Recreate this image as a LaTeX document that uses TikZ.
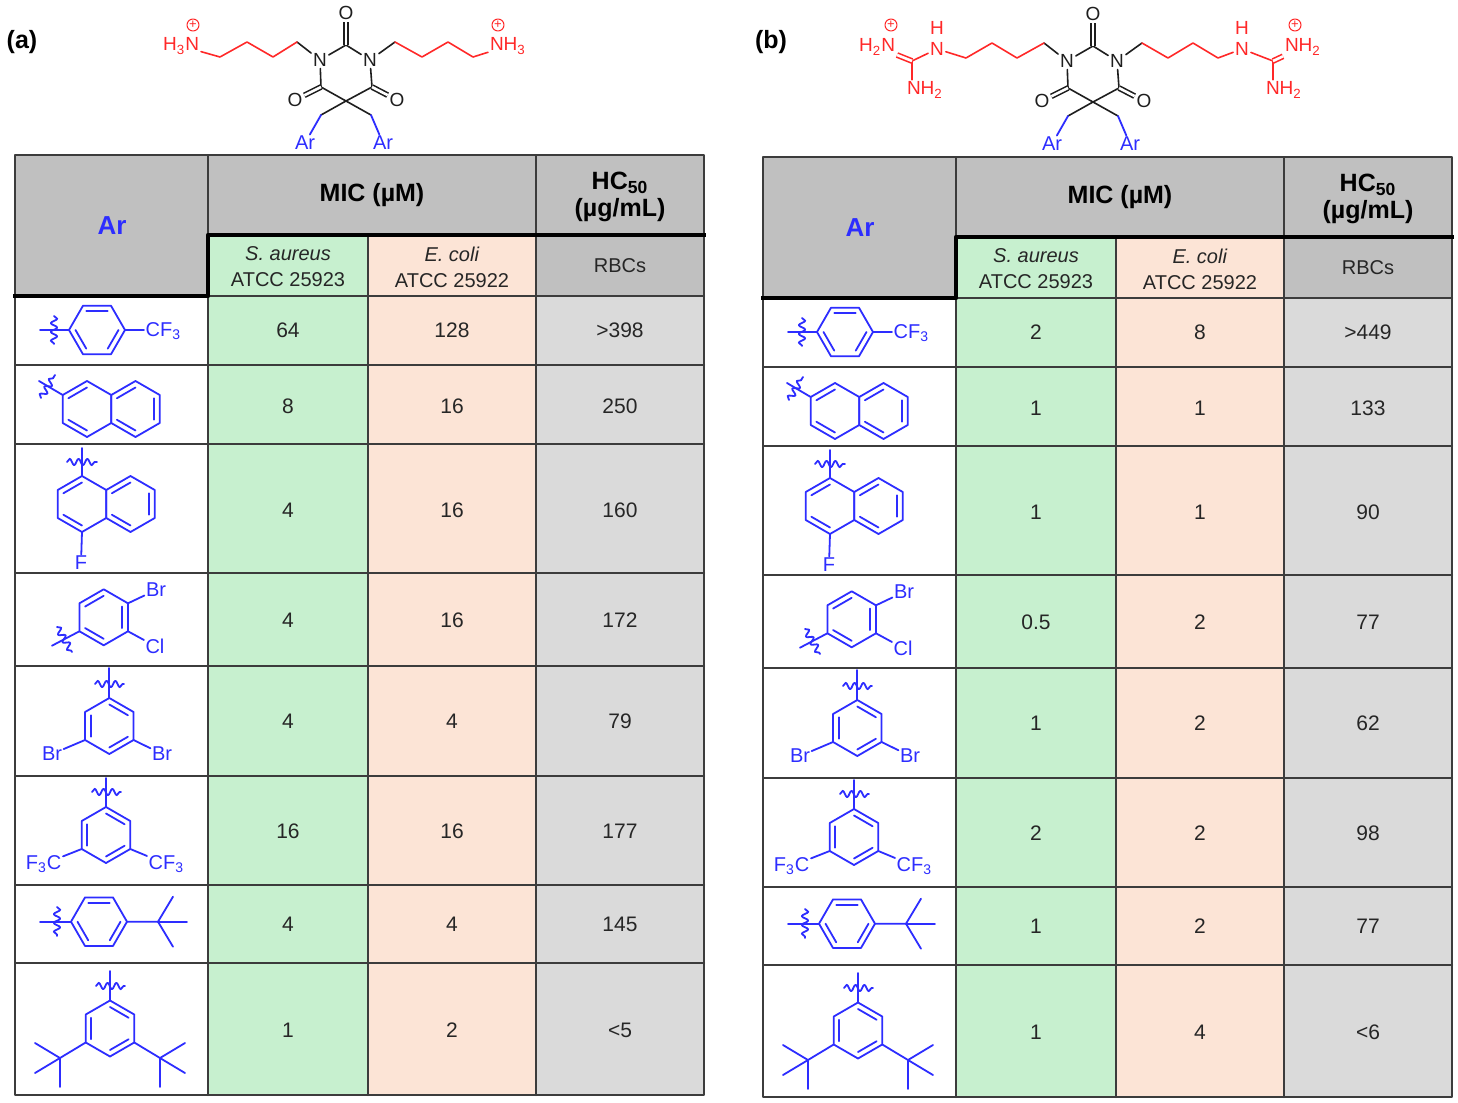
\documentclass[tikz,border=0pt]{standalone}
\usepackage{fontspec}
\setmainfont{Liberation Sans}
\usetikzlibrary{decorations.pathmorphing}
\definecolor{chemblue}{RGB}{45,45,255}
\definecolor{chemred}{RGB}{255,40,40}
\definecolor{chemblack}{RGB}{30,30,30}
\definecolor{headgray}{RGB}{192,192,192}
\definecolor{datagray}{RGB}{218,218,218}
\definecolor{saureus}{RGB}{199,240,207}
\definecolor{ecoli}{RGB}{252,228,214}
\definecolor{ruleline}{RGB}{60,60,60}
\definecolor{numtext}{RGB}{38,38,38}

\newcommand\ringr{28}
\newcommand\ringi{21.5}
% benzene ring: centre x, centre y, first corner, inner edges
\newcommand\benz[4]{%
  \begin{scope}[shift={(#1,#2)}]
    \draw[mol] (#3:\ringr) \foreach \k in {1,...,5}{ -- ({#3+60*\k}:\ringr)} -- cycle;
    \foreach \k in {#4}
      \draw[mol] ({#3+60*\k}:\ringi) -- ({#3+60*\k+60}:\ringi);
  \end{scope}}
\newcommand\charge[2]{%
  \node[circle,draw=#1,text=#1,line width=0.5pt,inner sep=0pt,minimum size=6pt,
    font=\fontsize{6.5}{6.5}\selectfont] at (#2) {+};}

% barbiturate core, in (a) coordinates
\newcommand\barbcore[1]{%
  \node[atom] (#1n1) at (320,60) {N};
  \node[atom] (#1n3) at (370,60) {N};
  \node[atom] (#1o2) at (346,13) {O};
  \node[atom] (#1o4) at (295,100) {O};
  \node[atom] (#1o6) at (397,100) {O};
  \node[chem] (#1arl) at (305,143) {Ar};
  \node[chem] (#1arr) at (383,143) {Ar};
  \coordinate (#1c2) at (346,45);
  \coordinate (#1c4) at (321,87);
  \coordinate (#1c5) at (346,101);
  \coordinate (#1c6) at (372,87);
  \coordinate (#1ml) at (321,115);
  \coordinate (#1mr) at (371,115);
  \coordinate (#1cl) at (297,42);
  \coordinate (#1cr) at (395,42);
  \draw[bond] (#1cl) -- (#1n1) -- (#1c2) -- (#1n3) -- (#1cr);
  \draw[bond] (#1n1) -- (#1c4) -- (#1c5) -- (#1c6) -- (#1n3);
  \draw[bond] (#1ml) -- (#1c5) -- (#1mr);
  \draw[dbond] (#1c2) -- (#1o2);
  \draw[dbond] (#1c4) -- (#1o4);
  \draw[dbond] (#1c6) -- (#1o6);
  \draw[mol] (#1ml) -- (#1arl);
  \draw[mol] (#1mr) -- (#1arr);
}

% grid, headers and Ar structures of one table
\newcommand\tablebody[1]{%
  \fill[headgray] (15,155) rectangle (704,296);
  \fill[saureus] (208,235) rectangle (368,1095);
  \fill[ecoli] (368,235) rectangle (536,1095);
  \fill[datagray] (536,296) rectangle (704,1095);
  \fill[white] (15,296) rectangle (208,1095);
  \foreach \y in {365,444,573,666,776,885,963}
    \draw[rule] (15,\y) -- (704,\y);
  \draw[rule] (208,296) -- (704,296);
  \draw[rule] (208,155) -- (208,1095);
  \draw[rule] (368,235) -- (368,1095);
  \draw[rule] (536,155) -- (536,1095);
  \draw[rule] (15,155) rectangle (704,1095);
  \draw[heavy] (704,235) -- (208,235) -- (208,296) -- (15,296);
  \node[head,text=chemblue,font=\bfseries\fontsize{13}{15}\selectfont] (#1ar) at (112,226) {Ar};
  \node[head] (#1mic) at (372,195) {MIC (µM)};
  \node[head,align=center] (#1hc) at (620,197) {HC\textsubscript{50}\\(µg/mL)};
  \node[cell,align=center,font=\fontsize{10}{13}\selectfont] (#1sa) at (288,267) {\textit{S. aureus}\\ATCC 25923};
  \node[cell,align=center,font=\fontsize{10}{13}\selectfont] (#1ec) at (452,267) {\textit{E. coli}\\ATCC 25922};
  \node[cell,font=\fontsize{10}{13}\selectfont] (#1rbc) at (620,266) {RBCs};
  % 4-CF3-phenyl
  \benz{97}{330}{0}{0,2,4}
  \draw[mol] (40,330) -- (69,330);
  \draw[wav] (54,316) -- (54,344);
  \draw[mol] (125,330) -- (144,330);
  \node[chem,anchor=west] (#1cfa) at (144,331) {CF\textsubscript{3}};
  % 2-naphthyl
  \benz{87}{409}{-90}{3,5}
  \benz{135.5}{409}{-90}{1,3,5}
  \draw[mol] (62.7,395) -- (39,381);
  \draw[wav] (41,398) -- (55,375);
  % 4-fluoro-1-naphthyl
  \benz{82}{504}{-90}{3,5}
  \benz{130.5}{504}{-90}{1,3,5}
  \draw[mol] (82,476) -- (82,448);
  \draw[wav] (67,462) -- (97,462);
  \node[chem] (#1f) at (81,563) {F};
  \draw[mol] (82,532) -- (#1f);
  % 4-bromo-3-chlorophenyl
  \benz{103.7}{617.3}{-90}{1,3,5}
  \node[chem] (#1bra) at (156,590) {Br};
  \node[chem] (#1cla) at (155,646) {Cl};
  \draw[mol] (128,603.3) -- (#1bra);
  \draw[mol] (128,631.3) -- (#1cla);
  \draw[mol] (79.4,631.3) -- (52,645.7);
  \draw[wav] (57,627) -- (72,652);
  % 3,5-dibromophenyl
  \benz{109.3}{726}{-90}{0,2,4}
  \draw[mol] (109.3,698) -- (109.3,668);
  \draw[wav] (95,684) -- (124,684);
  \node[chem] (#1brl) at (52,754) {Br};
  \node[chem] (#1brr) at (162,754) {Br};
  \draw[mol] (85,740) -- (#1brl);
  \draw[mol] (133.6,740) -- (#1brr);
  % 3,5-bis(CF3)phenyl
  \benz{106}{835}{-90}{0,2,4}
  \draw[mol] (106,807) -- (106,778);
  \draw[wav] (92,792) -- (121,792);
  \node[chem,anchor=east] (#1cfl) at (63,864) {F\textsubscript{3}C};
  \node[chem,anchor=west] (#1cfr) at (147,864) {CF\textsubscript{3}};
  \draw[mol] (81.7,849) -- (#1cfl);
  \draw[mol] (130.3,849) -- (#1cfr);
  % 4-tBu-phenyl
  \benz{99}{921.7}{0}{0,2,4}
  \draw[mol] (40,921.7) -- (71,921.7);
  \draw[wav] (57,907) -- (57,936);
  \draw[mol] (127,921.7) -- (158,921.7) -- (173,896.7);
  \draw[mol] (158,921.7) -- (187,921.7);
  \draw[mol] (158,921.7) -- (173,946.7);
  % 3,5-di-tBu-phenyl
  \benz{110}{1028.5}{-90}{0,2,4}
  \draw[mol] (110,1000.5) -- (110,971);
  \draw[wav] (96,986) -- (125,986);
  \draw[mol] (85.7,1042.5) -- (60,1058) -- (35,1043);
  \draw[mol] (60,1058) -- (35,1073);
  \draw[mol] (60,1058) -- (60,1087);
  \draw[mol] (134.3,1042.5) -- (160,1058) -- (185,1043);
  \draw[mol] (160,1058) -- (185,1073);
  \draw[mol] (160,1058) -- (160,1087);
}

\begin{document}
\begin{tikzpicture}[line cap=round,line join=round,x=0.5pt,y=-0.5pt,
    mol/.style={draw=chemblue,line width=0.9pt},
    wav/.style={mol,decorate,decoration={snake,segment length=4.4pt,amplitude=1.6pt}},
    chem/.style={text=chemblue,inner sep=0.6pt,font=\fontsize{10}{11}\selectfont},
    atom/.style={text=chemblack,inner sep=0.8pt,font=\fontsize{9.5}{11}\selectfont},
    bond/.style={draw=chemblack,line width=0.8pt},
    redbond/.style={draw=chemred,line width=0.8pt},
    dbond/.style={bond,double,double distance=1.3pt,line cap=butt},
    cell/.style={text=numtext,font=\fontsize{10.5}{12}\selectfont},
    head/.style={text=black,align=center,font=\bfseries\fontsize{12.5}{13.5}\selectfont},
    rule/.style={draw=ruleline,line width=1pt},
    heavy/.style={draw=black,line width=2.2pt,line cap=rect}]
  \fill[white] (0,0) rectangle (1458,1103);
  \useasboundingbox (0,0) rectangle (1458,1103);
  \node[font=\bfseries\fontsize{12.5}{14}\selectfont] (lbla) at (22,42) {(a)};
  \node[font=\bfseries\fontsize{12.5}{14}\selectfont] (lblb) at (771,42) {(b)};

  % (a) ammonium compound
  \barbcore{a}
  \node[atom,text=chemred,anchor=east] (ah3n) at (201,46) {H\textsubscript{3}N};
  \node[atom,text=chemred,anchor=west] (anh3) at (488,46) {NH\textsubscript{3}};
  \draw[redbond] (acl) -- (273,57) -- (247,42) -- (220,57) -- (ah3n);
  \draw[redbond] (acr) -- (422,57) -- (448,42) -- (473,57) -- (anh3);
  \charge{chemred}{193,25}
  \charge{chemred}{498,25}

  % (b) guanidinium compound
  \begin{scope}[shift={(747,1)}]
    \barbcore{b}
  \end{scope}
  \node[atom,text=chemred] (bnhl) at (937,49) {N};
  \node[atom,text=chemred] (bhl) at (937,28) {H};
  \coordinate (bgl) at (912,61);
  \node[atom,text=chemred,anchor=east] (bh2nl) at (897,47) {H\textsubscript{2}N};
  \node[atom,text=chemred,anchor=west] (bnh2l) at (905,90) {NH\textsubscript{2}};
  \draw[redbond] (bcl) -- (1017,58) -- (992,43) -- (966,58) -- (bnhl) -- (bgl) -- (bgl |- bnh2l.north);
  \draw[redbond,double,double distance=1.3pt,line cap=butt] (bgl) -- (bh2nl);
  \node[atom,text=chemred] (bnhr) at (1242,49) {N};
  \node[atom,text=chemred] (bhr) at (1242,28) {H};
  \coordinate (bgr) at (1273,61);
  \node[atom,text=chemred,anchor=west] (bnh2r) at (1283,47) {NH\textsubscript{2}};
  \node[atom,text=chemred,anchor=west] (bnh2b) at (1264,90) {NH\textsubscript{2}};
  \draw[redbond] (bcr) -- (1168,58) -- (1193,43) -- (1218,58) -- (bnhr) -- (bgr) -- (bgr |- bnh2b.north);
  \draw[redbond,double,double distance=1.3pt,line cap=butt] (bgr) -- (bnh2r);
  \charge{chemred}{891,25}
  \charge{chemred}{1295,25}

  % table (a)
  \tablebody{a}
  \foreach \y/\sa/\ec/\hc in {330/64/128/{>398},406/8/16/250,510/4/16/160,620/4/16/172,
      721/4/4/79,831/16/16/177,924/4/4/145,1030/1/2/{<5}}{
    \node[cell] (asa\y) at (288,\y) {\sa};
    \node[cell] (aec\y) at (452,\y) {\ec};
    \node[cell] (ahc\y) at (620,\y) {\hc};
  }

  % table (b)
  \begin{scope}[shift={(748,2)}]
    \tablebody{b}
    \foreach \y/\sa/\ec/\hc in {330/2/8/{>449},406/1/1/133,510/1/1/90,620/0.5/2/77,
        721/1/2/62,831/2/2/98,924/1/2/77,1030/1/4/{<6}}{
      \node[cell] (bsa\y) at (288,\y) {\sa};
      \node[cell] (bec\y) at (452,\y) {\ec};
      \node[cell] (bhc\y) at (620,\y) {\hc};
    }
  \end{scope}
\end{tikzpicture}
\end{document}
